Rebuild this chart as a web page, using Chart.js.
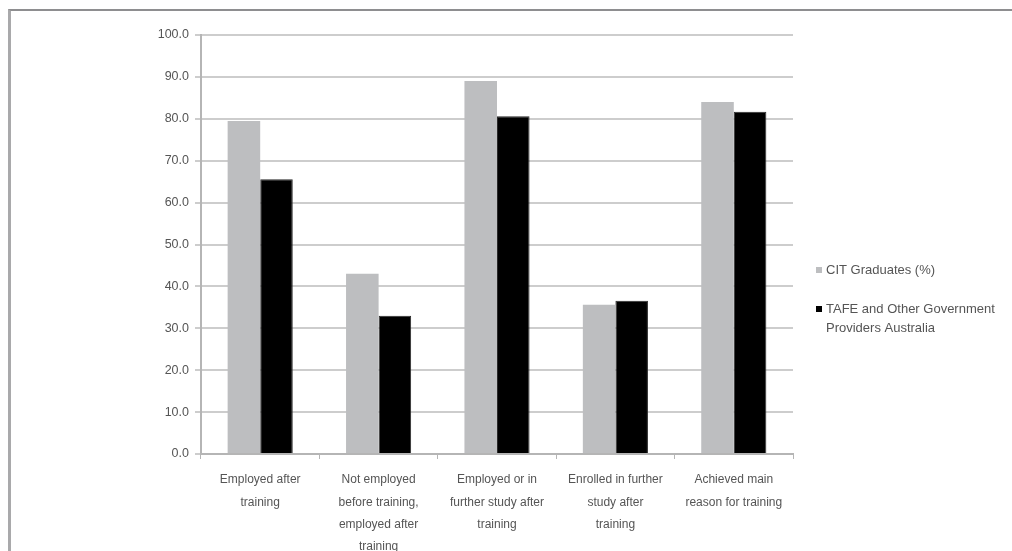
<!DOCTYPE html>
<html>
<head>
<meta charset="utf-8">
<script src="https://cdn.jsdelivr.net/npm/chart.js@4/dist/chart.umd.min.js"></script>
<style>
  html, body { margin: 0; padding: 0; background: #fff; }
  #wrap { position: absolute; left: 0; top: 0; width: 1012px; height: 551px; }
  #frame { position: absolute; left: 8px; top: 9px; width: 1010px; height: 550px;
           border-left: 3px solid #a9a9ab; border-top: 2px solid #8e8e90; box-sizing: border-box; }
  canvas { position: absolute; left: 0; top: 0; }
</style>
</head>
<body>
<div id="wrap">
  <div id="frame"></div>
  <canvas id="c" width="1012" height="551"></canvas>
</div>
<script>
// Outcome categories along the x axis
const categories = [
  ['Employed after', 'training'],
  ['Not employed', 'before training,', 'employed after', 'training'],
  ['Employed or in', 'further study after', 'training'],
  ['Enrolled in further', 'study after', 'training'],
  ['Achieved main', 'reason for training']
];

// Percentages for each group
const citGraduates = [79.5, 43.0, 89.0, 35.6, 84.0];
const tafeAustralia = [65.6, 33.0, 80.6, 36.6, 81.7];

const seriesLabels = [
  ['CIT Graduates (%)'],
  ['TAFE and Other Government', 'Providers Australia']
];

const textColor = '#555555';
const fontFamily = "'Liberation Sans', Arial, sans-serif";

// Legend drawn to the right of the plot, supporting wrapped labels
const sideLegend = {
  id: 'sideLegend',
  afterDraw(chart) {
    const ctx = chart.ctx;
    const x = 816;
    const rows = [270, 309];
    ctx.save();
    ctx.font = '13px ' + fontFamily;
    ctx.textBaseline = 'middle';
    chart.data.datasets.forEach((ds, i) => {
      const y = rows[i];
      ctx.fillStyle = ds.backgroundColor;
      ctx.fillRect(x, y - 3, 6, 6);
      ctx.fillStyle = textColor;
      seriesLabels[i].forEach((line, j) => {
        ctx.fillText(line, x + 10, y + j * 19);
      });
    });
    ctx.restore();
  }
};

new Chart(document.getElementById('c'), {
  type: 'bar',
  data: {
    labels: categories,
    datasets: [
      { label: seriesLabels[0].join(' '), data: citGraduates, backgroundColor: '#bdbec0',
        borderWidth: 0, categoryPercentage: 0.55, barPercentage: 1.0 },
      { label: seriesLabels[1].join(' '), data: tafeAustralia, backgroundColor: '#000000',
        borderColor: '#2a2a2a', borderWidth: 1, categoryPercentage: 0.55, barPercentage: 1.0 }
    ]
  },
  options: {
    responsive: false,
    animation: false,
    devicePixelRatio: 1,
    layout: { padding: { left: 0, top: 35, right: 219, bottom: 0 } },
    plugins: { legend: { display: false }, tooltip: { enabled: false } },
    scales: {
      x: {
        grid: { display: true, drawOnChartArea: false, drawTicks: true, tickLength: 5,
                color: '#b5b5b5', offset: true },
        border: { display: true, color: '#b5b5b5', width: 2 },
        ticks: { color: textColor, font: { family: fontFamily, size: 12, lineHeight: 1.86 },
                 maxRotation: 0, autoSkip: false, padding: 10 },
        afterFit(scale) { scale.height = 97; }
      },
      y: {
        min: 0, max: 100,
        grid: { color: '#cdcdcd', lineWidth: 2, tickLength: 6, drawTicks: true },
        border: { display: true, color: '#b5b5b5', width: 2 },
        ticks: { stepSize: 10, color: textColor, padding: 6,
                 font: { family: fontFamily, size: 12.5 },
                 callback: v => Number(v).toFixed(1) },
        afterFit(scale) { scale.width = 201; }
      }
    }
  },
  plugins: [sideLegend]
});
</script>
</body>
</html>
